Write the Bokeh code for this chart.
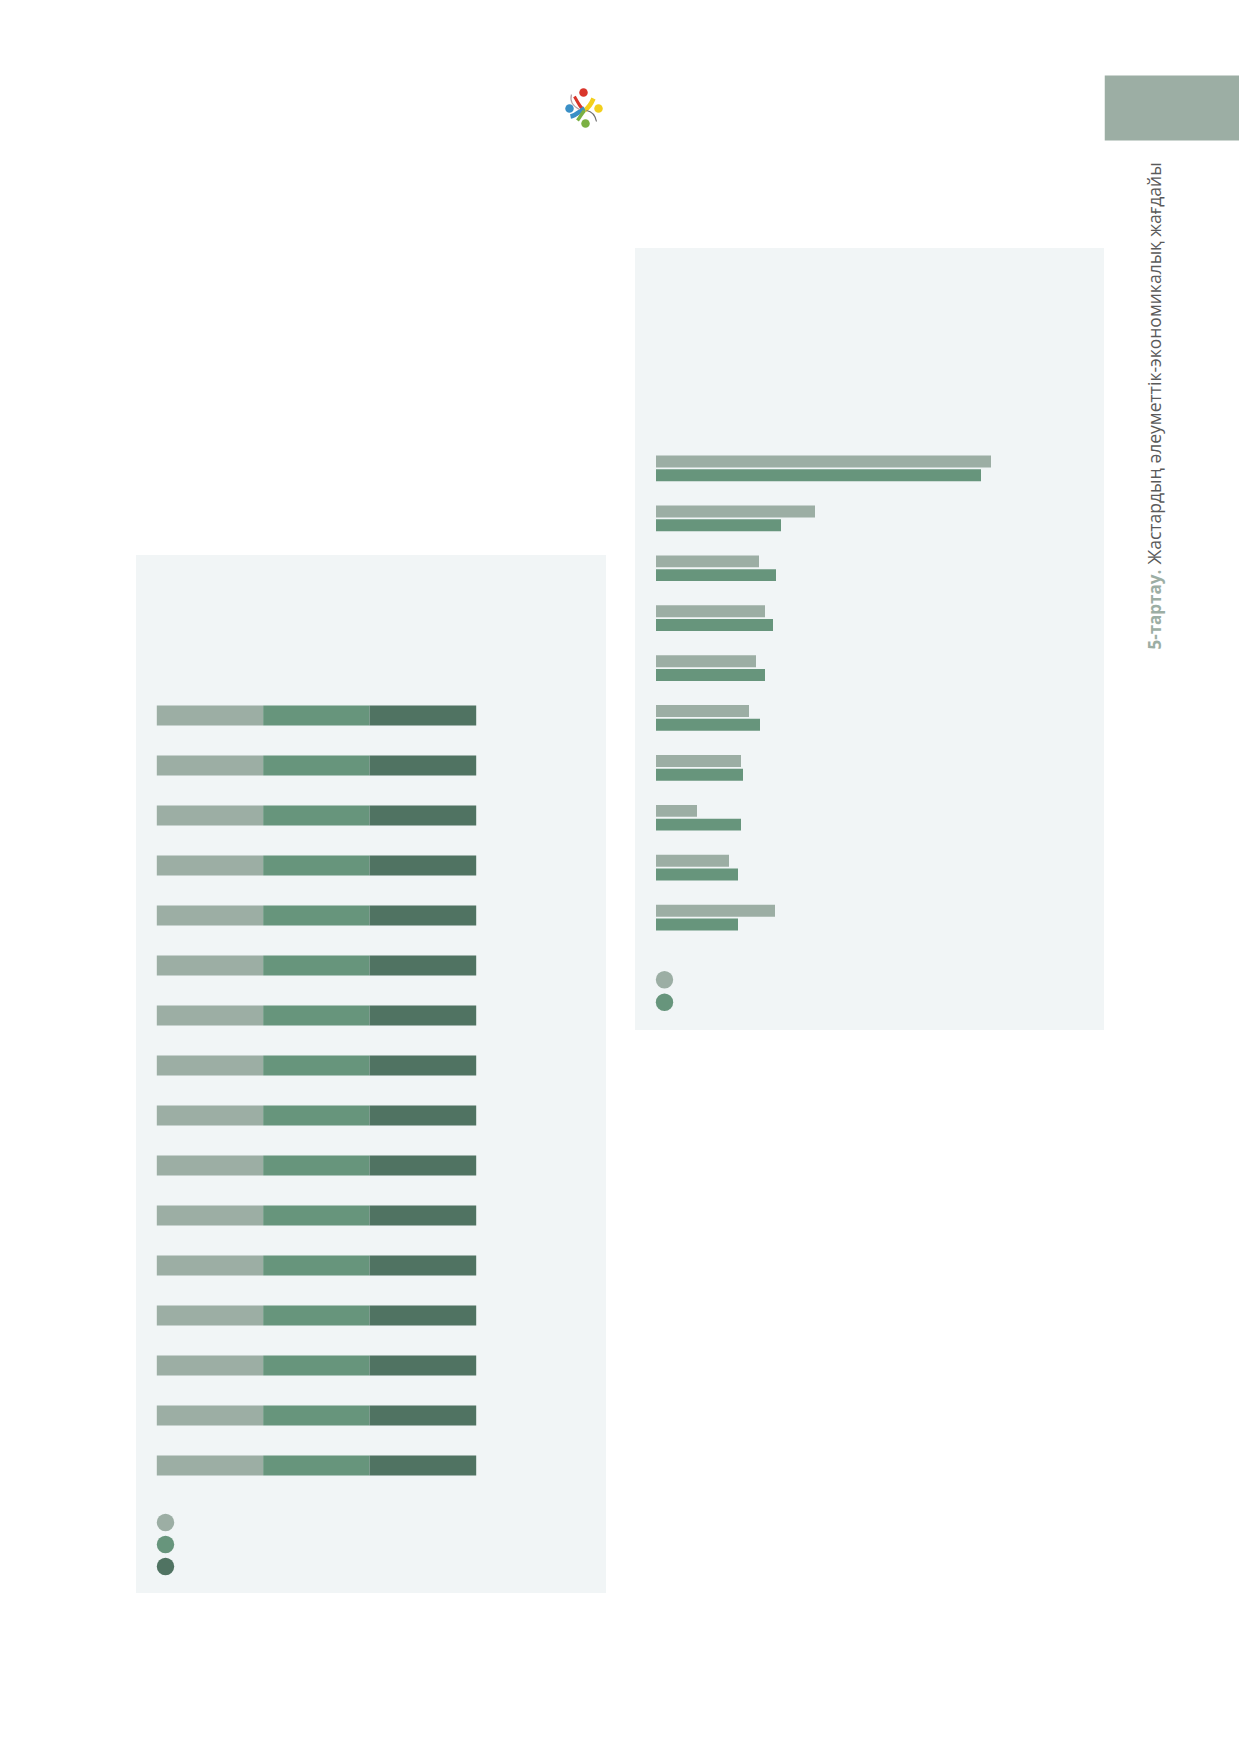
import math
from bokeh.plotting import figure
from bokeh.models import Range1d, FactorRange, ColumnDataSource
from bokeh.layouts import row, column
from bokeh.transform import dodge
from bokeh.core.properties import value
from bokeh.embed import file_html
from bokeh.resources import INLINE

# ---------------- data ----------------
left_categories = ["1", "2", "3", "4", "5", "6", "7", "8",
                   "9", "10", "11", "12", "13", "14", "15", "16"]
left_series = ["s1", "s2", "s3"]
left_s1 = [33.3, 33.3, 33.3, 33.3, 33.3, 33.3, 33.3, 33.3,
           33.3, 33.3, 33.3, 33.3, 33.3, 33.3, 33.3, 33.3]
left_s2 = [33.3, 33.3, 33.3, 33.3, 33.3, 33.3, 33.3, 33.3,
           33.3, 33.3, 33.3, 33.3, 33.3, 33.3, 33.3, 33.3]
left_s3 = [33.4, 33.4, 33.4, 33.4, 33.4, 33.4, 33.4, 33.4,
           33.4, 33.4, 33.4, 33.4, 33.4, 33.4, 33.4, 33.4]

right_categories = ["1", "2", "3", "4", "5", "6", "7", "8", "9", "10"]
right_series = ["a", "b"]
right_a = [33.5, 15.9, 10.3, 10.9, 10.0, 9.3, 8.5, 4.1, 7.3, 11.9]
right_b = [32.5, 12.5, 12.0, 11.7, 10.9, 10.4, 8.7, 8.5, 8.2, 8.2]

title_bold = "5-тартау."
title_text = "Жастардың әлеуметтік-экономикалық жағдайы"

# ---------------- styles ----------------
C_LIGHT = "#9caea4"
C_MID = "#67957c"
C_DARK = "#507362"
PANEL = "#f1f5f6"
WHITE = "#ffffff"
FONT = "Open Sans"


def bare(width, height, bg, x_range=None, y_range=None, top=0, bottom=0):
    p = figure(width=width, height=height,
               x_range=x_range if x_range is not None else Range1d(0, 1),
               y_range=y_range if y_range is not None else Range1d(0, 1),
               output_backend="svg", toolbar_location=None, title=None, tools="",
               x_axis_location=None, y_axis_location=None,
               min_border_left=0, min_border_right=0,
               min_border_top=top, min_border_bottom=bottom,
               background_fill_color=bg, border_fill_color=bg,
               outline_line_color=None)
    p.xgrid.visible = False
    p.ygrid.visible = False
    return p


# ---------------- logo area (top of left column) ----------------
logo = bare(470, 555, WHITE, Range1d(0, 470), Range1d(555, 0))
cx, cy = 447, 107
logo.bezier(x0=[cx - 9], y0=[cy - 11], x1=[cx + 1], y1=[cy + 2],
            cx0=[cx - 4], cy0=[cy - 2], cx1=[cx - 2], cy1=[cy + 2],
            line_color="#d9352b", line_width=3)
logo.bezier(x0=[cx + 10], y0=[cy - 9], x1=[cx + 1], y1=[cy + 3],
            cx0=[cx + 7], cy0=[cy - 2], cx1=[cx + 4], cy1=[cy + 1],
            line_color="#f2cf1c", line_width=4.5)
logo.bezier(x0=[cx - 13], y0=[cy + 9], x1=[cx + 1], y1=[cy + 1],
            cx0=[cx - 8], cy0=[cy + 8], cx1=[cx - 3], cy1=[cy + 3],
            line_color="#3a8fc6", line_width=4.5)
logo.bezier(x0=[cx - 6], y0=[cy + 13], x1=[cx + 1], y1=[cy + 3],
            cx0=[cx - 3], cy0=[cy + 9], cx1=[cx - 1], cy1=[cy + 5],
            line_color="#7bb043", line_width=3.5)
logo.bezier(x0=[cx + 3], y0=[cy + 3], x1=[cx + 13], y1=[cy + 14],
            cx0=[cx + 9], cy0=[cy + 4], cx1=[cx + 12], cy1=[cy + 9],
            line_color="#6f6f6f", line_width=1.2)
logo.bezier(x0=[cx - 12], y0=[cy - 13], x1=[cx - 4], y1=[cy + 2],
            cx0=[cx - 14], cy0=[cy - 6], cx1=[cx - 10], cy1=[cy - 1],
            line_color="#b8a0a8", line_width=1.2)
logo.scatter(x=[cx, cx - 14, cx + 15, cx + 2], y=[cy - 15, cy + 1, cy + 1, cy + 16],
             size=8.5, color=["#d9352b", "#3a8fc6", "#f2cf1c", "#7bb043"], line_color=None)

# ---------------- left chart (stacked) ----------------
L_W = 470
L_X0, L_PPU = 20.3, 319.4 / 100.0
left_src = ColumnDataSource(dict(cat=left_categories, s1=left_s1, s2=left_s2, s3=left_s3))
left = bare(L_W, 945, None,
            Range1d(-L_X0 / L_PPU, (L_W - L_X0) / L_PPU),
            FactorRange(factors=left_categories[::-1]), top=135, bottom=10)
left.hbar_stack(left_series, y="cat", height=0.4, source=left_src,
                color=[C_LIGHT, C_MID, C_DARK], line_color=None)

left_leg_src = ColumnDataSource(dict(name=left_series, color=[C_LIGHT, C_MID, C_DARK]))
left_leg = bare(470, 93, None, Range1d(-29, 441), FactorRange(factors=left_series[::-1]),
                top=11, bottom=16)
left_leg.scatter(x=0, y="name", size=17.4, color="color", line_color=None, source=left_leg_src)

# ---------------- right chart (grouped) ----------------
R_W = 469
R_X0, R_PPU = 20.5, 10.0
right_src = ColumnDataSource(dict(cat=right_categories, a=right_a, b=right_b))
right = bare(R_W, 707, None,
             Range1d(-R_X0 / R_PPU, (R_W - R_X0) / R_PPU),
             FactorRange(factors=right_categories[::-1]), top=195, bottom=13)
right.hbar(y=dodge("cat", 0.138, range=right.y_range), left=0, right="a", height=0.24,
           source=right_src, color=C_LIGHT, line_color=None)
right.hbar(y=dodge("cat", -0.138, range=right.y_range), left=0, right="b", height=0.24,
           source=right_src, color=C_MID, line_color=None)

right_leg_src = ColumnDataSource(dict(name=right_series, color=[C_LIGHT, C_MID]))
right_leg = bare(469, 75, None, Range1d(-29, 440), FactorRange(factors=right_series[::-1]),
                 top=13, bottom=17)
right_leg.scatter(x=0, y="name", size=17.4, color="color", line_color=None, source=right_leg_src)

# ---------------- side strip (tab + rotated title) ----------------
side = bare(135, 660, WHITE, Range1d(0, 135), Range1d(660, 0))
side.quad(left=[0], right=[135], top=[75], bottom=[140], color=C_LIGHT, line_color=None)
side.text(x=[49.5], y=[649], text=[title_bold], angle=math.pi / 2,
          text_font=value(FONT), text_font_style="bold", text_font_size="17px",
          text_color=C_LIGHT, text_align="left", text_baseline="alphabetic")
side.text(x=[49.5], y=[564], text=[title_text], angle=math.pi / 2,
          text_font=value(FONT), text_font_size="17.5px",
          text_color="#5a5a5a", text_align="left", text_baseline="alphabetic")

# ---------------- layout ----------------
panel_style = {"background-color": PANEL}
left_panel = column(left, left_leg, styles=panel_style)
right_panel = column(right, right_leg, styles=panel_style)
col_left = column(logo, left_panel)
col_right = column(bare(469, 248, WHITE), right_panel)
layout = row(bare(136, 10, WHITE), col_left, bare(29, 10, WHITE), col_right, side)

open("out.html", "w").write(file_html(layout, INLINE, title="5-тартау"))
